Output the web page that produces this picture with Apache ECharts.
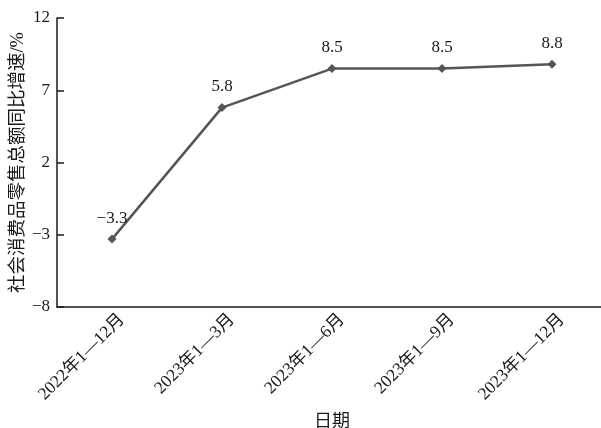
<!DOCTYPE html>
<html>
<head>
<meta charset="utf-8">
<script src="https://cdn.jsdelivr.net/npm/echarts@6/dist/echarts.min.js"></script>
<style>
html,body{margin:0;padding:0;background:#fff;}
#c{width:601px;height:428px;}
</style>
</head>
<body>
<div id="c"></div>
<script>
const categories = ['2022年1—12月', '2023年1—3月', '2023年1—6月', '2023年1—9月', '2023年1—12月'];
const growth = [-3.3, 5.8, 8.5, 8.5, 8.8];
const yTicks = [-8, -3, 2, 7, 12];

const FONT = '"Liberation Serif", "Times New Roman", "Noto Sans CJK SC", serif';
const chart = echarts.init(document.getElementById('c'), null, {renderer: 'canvas'});
chart.setOption({
  animation: false,
  backgroundColor: '#fff',
  grid: {left: 57, right: -6, top: 18, bottom: 121, containLabel: false, outerBoundsMode: 'none'},
  xAxis: {
    type: 'category',
    data: categories,
    boundaryGap: true,
    name: '日期',
    nameLocation: 'middle',
    nameGap: 106,
    nameMoveOverlap: false,
    nameTextStyle: {fontFamily: FONT, fontSize: 18, color: '#1a1a1a'},
    axisLine: {onZero: false, lineStyle: {color: '#1a1a1a', width: 1.5}},
    axisTick: {inside: true, length: 7, lineStyle: {color: '#1a1a1a', width: 1.5}},
    axisLabel: {
      rotate: 45, margin: 0, verticalAlign: 'top', lineHeight: 28,
      fontFamily: FONT, fontSize: 17.5, color: '#1a1a1a'
    },
    splitLine: {show: false}
  },
  yAxis: {
    type: 'value',
    min: yTicks[0],
    max: yTicks[yTicks.length - 1],
    interval: 5,
    name: '社会消费品零售总额同比增速/%',
    nameLocation: 'middle',
    nameRotate: 90,
    nameGap: 30,
    nameMoveOverlap: false,
    nameTextStyle: {fontFamily: FONT, fontSize: 18.5, color: '#1a1a1a'},
    axisLine: {show: true, lineStyle: {color: '#1a1a1a', width: 1.5}},
    axisTick: {show: true, inside: true, length: 7, lineStyle: {color: '#1a1a1a', width: 1.5}},
    axisLabel: {
      fontFamily: FONT, fontSize: 17, color: '#1a1a1a', margin: 7,
      formatter: v => (v < 0 ? '\u2212' + Math.abs(v) : String(v))
    },
    splitLine: {show: false}
  },
  series: [{
    type: 'line',
    data: growth,
    symbol: 'diamond',
    symbolSize: 9,
    lineStyle: {color: '#555', width: 2.5},
    itemStyle: {color: '#555'},
    label: {
      show: true,
      position: 'top',
      distance: 8,
      fontFamily: FONT,
      fontSize: 17,
      color: '#1a1a1a',
      formatter: p => (p.value < 0 ? '\u2212' + Math.abs(p.value) : String(p.value))
    }
  }]
});
</script>
</body>
</html>
